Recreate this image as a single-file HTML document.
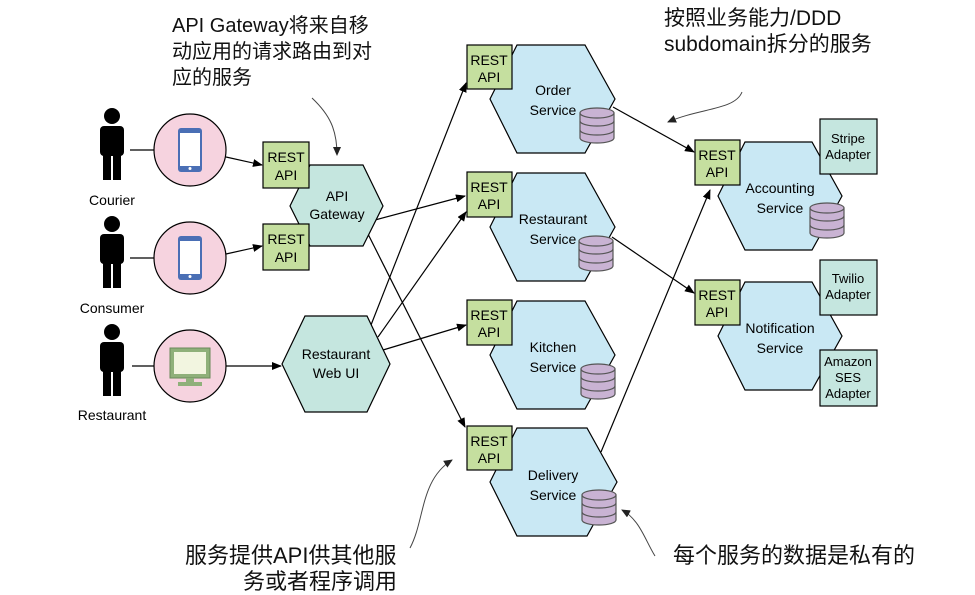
<!DOCTYPE html>
<html><head><meta charset="utf-8"><style>
body{margin:0;background:#fff}
svg{display:block}
.t{font-family:"Liberation Sans",Arial,sans-serif;font-size:14px;fill:#000;text-anchor:middle}
.c{font-family:"Liberation Sans","Noto Sans CJK SC",sans-serif;font-size:20px;fill:#111}
</style></head><body>
<svg width="975" height="595" viewBox="0 0 975 595" xmlns="http://www.w3.org/2000/svg">
<defs>
<marker id="a" markerWidth="10" markerHeight="8" refX="9" refY="4" orient="auto" markerUnits="userSpaceOnUse"><path d="M0,0 L10,4 L0,8 z" fill="#000"/></marker>
<marker id="b" markerWidth="9" markerHeight="8" refX="8" refY="4" orient="auto" markerUnits="userSpaceOnUse"><path d="M0,0 L9,4 L0,8 z" fill="#222"/></marker>
<g id="db">
<path d="M0,5 v25 a17,5 0 0 0 34,0 v-25" fill="#c9b3d3" stroke="#555" stroke-width="1.2"/>
<ellipse cx="17" cy="5" rx="17" ry="5" fill="#c9b3d3" stroke="#555" stroke-width="1.2"/>
<path d="M0,13 a17,5 0 0 0 34,0 M0,22 a17,5 0 0 0 34,0" fill="none" stroke="#555" stroke-width="1.2"/>
</g>
<g id="person" fill="#000">
<circle cx="0" cy="8" r="8"/>
<rect x="-12" y="18" width="24" height="30" rx="4"/>
<rect x="-9" y="44" width="8" height="28"/><rect x="1" y="44" width="8" height="28"/>
</g>
<g id="phone">
<rect x="-12" y="-22" width="24" height="44" rx="3" fill="#4a6fb5"/>
<rect x="-10" y="-17" width="20" height="33" fill="#fff"/>
<circle cx="0" cy="18.5" r="1.5" fill="#fff"/>
</g>
</defs>

<text class="c" x="172" y="32">API Gateway将来自移</text>
<text class="c" x="172" y="58">动应用的请求路由到对</text>
<text class="c" x="172" y="84">应的服务</text>
<text class="c" x="664" y="25" style="font-size:21px">按照业务能力/DDD</text>
<text class="c" x="664" y="51" style="font-size:21px">subdomain拆分的服务</text>
<text class="c" x="185" y="563" style="font-size:22px">服务提供API供其他服</text>
<text class="c" x="397" y="589" text-anchor="end" style="font-size:22px">务或者程序调用</text>
<text class="c" x="673" y="563" style="font-size:22px">每个服务的数据是私有的</text>

<g fill="none" stroke="#444" stroke-width="1">
<path d="M312,98 C330,115 337,130 337,155" marker-end="url(#b)"/>
<path d="M742,92 C735,110 700,108 668,122" marker-end="url(#b)"/>
<path d="M410,548 C425,520 420,480 452,460" marker-end="url(#b)"/>
<path d="M655,556 C645,540 640,520 622,510" marker-end="url(#b)"/>
</g>

<use href="#person" x="112" y="108"/>
<use href="#person" x="112" y="216"/>
<use href="#person" x="112" y="324"/>
<text class="t" x="112" y="205">Courier</text>
<text class="t" x="112" y="313">Consumer</text>
<text class="t" x="112" y="420">Restaurant</text>

<g stroke="#000" stroke-width="1.2">
<line x1="130" y1="150" x2="156" y2="150"/>
<line x1="130" y1="258" x2="156" y2="258"/>
<line x1="132" y1="366" x2="156" y2="366"/>
</g>
<g fill="#f6d3df" stroke="#000" stroke-width="1.2">
<circle cx="190" cy="150" r="36"/>
<circle cx="190" cy="258" r="36"/>
<circle cx="190" cy="366" r="36"/>
</g>
<use href="#phone" x="190" y="150"/>
<use href="#phone" x="190" y="258"/>
<g>
<rect x="170" y="348" width="40" height="30" fill="#8fb07a" stroke="#6a8a5a"/>
<rect x="174" y="352" width="32" height="22" fill="#f2f5e0"/>
<rect x="186" y="378" width="8" height="4" fill="#8fb07a"/>
<rect x="178" y="382" width="24" height="4" fill="#8fb07a"/>
</g>

<g stroke="#000" stroke-width="1.2" fill="none" marker-end="url(#a)">
<line x1="226" y1="157" x2="262" y2="165"/>
<line x1="226" y1="254" x2="262" y2="246"/>
<line x1="226" y1="366" x2="281" y2="366"/>
<line x1="375" y1="220" x2="465" y2="196"/>
<line x1="368" y1="234" x2="465" y2="427"/>
<line x1="371" y1="325" x2="466" y2="83"/>
<line x1="378" y1="337" x2="466" y2="212"/>
<line x1="383" y1="350" x2="466" y2="325"/>
<line x1="613" y1="107" x2="694" y2="152"/>
<line x1="612" y1="237" x2="694" y2="293"/>
<line x1="601" y1="452" x2="710" y2="190"/>
</g>

<g fill="#c5e6df" stroke="#000" stroke-width="1.2">
<polygon points="290,206 310,165 363,165 383,206 363,246 310,246"/>
<polygon points="282,364 305,316 367,316 390,364 367,412 305,412"/>
</g>
<g fill="#c5df9f" stroke="#000" stroke-width="1.2">
<rect x="263" y="142" width="46" height="46"/>
<rect x="263" y="224" width="46" height="46"/>
</g>
<text class="t" x="286" y="162">REST</text><text class="t" x="286" y="180">API</text>
<text class="t" x="286" y="244">REST</text><text class="t" x="286" y="262">API</text>
<text class="t" x="337" y="201">API</text><text class="t" x="337" y="219">Gateway</text>
<text class="t" x="336" y="359">Restaurant</text><text class="t" x="336" y="378">Web UI</text>

<g fill="#c9e8f4" stroke="#000" stroke-width="1.2">
<polygon points="490,99 517,45 585,45 615,99 585,153 517,153"/>
<polygon points="490,227 517,173 585,173 615,227 585,281 517,281"/>
<polygon points="490,355 517,301 585,301 615,355 585,409 517,409"/>
<polygon points="490,482 517,428 587,428 617,482 587,536 517,536"/>
<polygon points="718,196 745,142 812,142 842,196 812,250 745,250"/>
<polygon points="718,336 745,282 812,282 842,336 812,390 745,390"/>
</g>
<g fill="#c5df9f" stroke="#000" stroke-width="1.2">
<rect x="467" y="45" width="45" height="44"/>
<rect x="467" y="172" width="45" height="45"/>
<rect x="467" y="300" width="45" height="45"/>
<rect x="467" y="426" width="45" height="44"/>
<rect x="695" y="140" width="45" height="45"/>
<rect x="695" y="280" width="45" height="45"/>
</g>
<g fill="#c5e6df" stroke="#000" stroke-width="1.2">
<rect x="820" y="119" width="57" height="55"/>
<rect x="820" y="260" width="57" height="55"/>
<rect x="820" y="350" width="57" height="56"/>
</g>
<text class="t" x="489" y="65">REST</text><text class="t" x="489" y="82">API</text>
<text class="t" x="489" y="192">REST</text><text class="t" x="489" y="209">API</text>
<text class="t" x="489" y="320">REST</text><text class="t" x="489" y="337">API</text>
<text class="t" x="489" y="446">REST</text><text class="t" x="489" y="463">API</text>
<text class="t" x="717" y="160">REST</text><text class="t" x="717" y="177">API</text>
<text class="t" x="717" y="300">REST</text><text class="t" x="717" y="317">API</text>

<text class="t" x="553" y="95">Order</text><text class="t" x="553" y="115">Service</text>
<text class="t" x="553" y="224">Restaurant</text><text class="t" x="553" y="244">Service</text>
<text class="t" x="553" y="352">Kitchen</text><text class="t" x="553" y="372">Service</text>
<text class="t" x="553" y="480">Delivery</text><text class="t" x="553" y="500">Service</text>
<text class="t" x="780" y="193">Accounting</text><text class="t" x="780" y="213">Service</text>
<text class="t" x="780" y="333">Notification</text><text class="t" x="780" y="353">Service</text>

<text class="t" x="848" y="143" style="font-size:13px">Stripe</text><text class="t" x="848" y="159" style="font-size:13px">Adapter</text>
<text class="t" x="848" y="283" style="font-size:13px">Twilio</text><text class="t" x="848" y="299" style="font-size:13px">Adapter</text>
<text class="t" x="848" y="366" style="font-size:13px">Amazon</text><text class="t" x="848" y="382" style="font-size:13px">SES</text><text class="t" x="848" y="398" style="font-size:13px">Adapter</text>

<use href="#db" x="580" y="108"/>
<use href="#db" x="579" y="236"/>
<use href="#db" x="581" y="364"/>
<use href="#db" x="582" y="490"/>
<use href="#db" x="810" y="203"/>
</svg>
</body></html>
